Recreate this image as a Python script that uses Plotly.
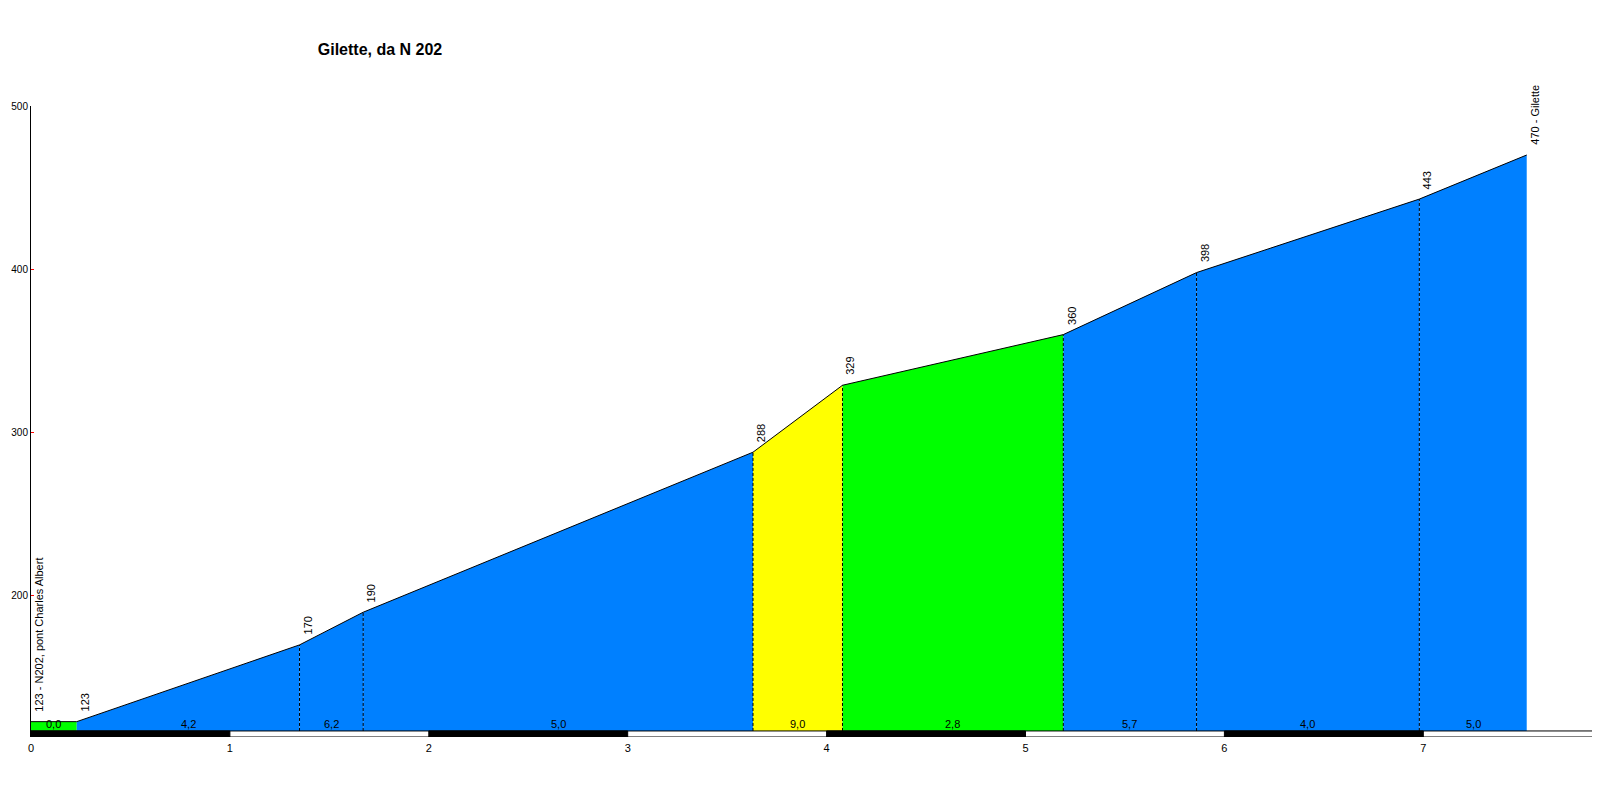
import plotly.graph_objects as go

# profilo altimetrico
dist = [0, 0.23, 1.35, 1.67, 3.63, 4.08, 5.19, 5.86, 6.98, 7.52]
elev = [123, 123, 170, 190, 288, 329, 360, 398, 443, 470]
point_labels = ["123 - N202, pont Charles Albert", "123", "170", "190", "288",
                "329", "360", "398", "443", "470 - Gilette"]
grade_labels = ["0,0", "4,2", "6,2", "5,0", "9,0", "2,8", "5,7", "4,0", "5,0"]
seg_colors = ["#00FF00", "#0080FF", "#0080FF", "#0080FF", "#FFFF00",
              "#00FF00", "#0080FF", "#0080FF", "#0080FF"]
km_ticks = [0, 1, 2, 3, 4, 5, 6, 7]
y_ticks = [200, 300, 400, 500]

BASE = 117.3
BAR_BOTTOM = 113.6
FONT = "Liberation Sans, Arial, sans-serif"
W, H = 1600, 776  # la pagina aggiunge 8px di margine
L, R, T, B = 23, 0, 98, 47
XMAX = (W - L - R) / 198.9

fig = go.Figure()

# segmenti colorati
for i in range(len(dist) - 1):
    x0, x1 = dist[i], dist[i + 1]
    fig.add_trace(go.Scatter(
        x=[x0, x0, x1, x1, x0], y=[BASE, elev[i], elev[i + 1], BASE, BASE],
        mode="none", fill="toself", fillcolor=seg_colors[i],
        hoverinfo="skip", showlegend=False
    ))

# linee tratteggiate
for i in range(2, len(dist) - 1):
    fig.add_trace(go.Scatter(
        x=[dist[i], dist[i]], y=[BASE, elev[i]], mode="lines",
        line=dict(color="black", width=1, dash="3px,2px"),
        hoverinfo="skip", showlegend=False
    ))

# contorno
fig.add_trace(go.Scatter(
    x=dist, y=elev, mode="lines", line=dict(color="black", width=1),
    hoverinfo="skip", showlegend=False
))

shapes = [dict(type="rect", xref="x", yref="y", x0=0, x1=XMAX + 0.1, y0=BAR_BOTTOM, y1=BASE,
               fillcolor="white", line=dict(color="black", width=1), layer="above")]
for k in km_ticks[::2]:
    shapes.append(dict(type="rect", xref="x", yref="y", x0=k, x1=k + 1, y0=BAR_BOTTOM, y1=BASE,
                       fillcolor="black", line=dict(color="black", width=1), layer="above"))

annotations = []
for x, y, t in zip(dist, elev, point_labels):
    annotations.append(dict(x=x, y=y, text=t, textangle=-90, showarrow=False,
                            xanchor="left", yanchor="bottom", xshift=0, yshift=8,
                            font=dict(family=FONT, size=11, color="black")))
for i, g in enumerate(grade_labels):
    annotations.append(dict(x=(dist[i] + dist[i + 1]) / 2, y=BASE, text=g, showarrow=False,
                            xanchor="center", yanchor="bottom", yshift=-1,
                            font=dict(family=FONT, size=11, color="black")))

fig.update_layout(
    width=W, height=H,
    margin=dict(l=L, r=R, t=T, b=B, autoexpand=False),
    paper_bgcolor="white", plot_bgcolor="white",
    title=dict(text="<b>Gilette, da N 202</b>", x=372 / W, xanchor="center",
               y=1 - 41 / H, yanchor="middle",
               font=dict(family=FONT, size=16, color="black")),
    xaxis=dict(range=[0, XMAX], tickvals=km_ticks, ticktext=[str(k) for k in km_ticks],
               showgrid=False, zeroline=False, showline=False, ticks="", automargin=False,
               ticklabelstandoff=3,
               tickfont=dict(family=FONT, size=11, color="black")),
    yaxis=dict(range=[BAR_BOTTOM, 500], tickvals=y_ticks, showgrid=False, zeroline=False,
               showline=True, linecolor="black", linewidth=1, automargin=False,
               ticks="inside", ticklen=3, tickcolor="red", tickwidth=1,
               tickfont=dict(family=FONT, size=10, color="black")),
    shapes=shapes, annotations=annotations,
    showlegend=False
)

fig.write_html("out.html")
